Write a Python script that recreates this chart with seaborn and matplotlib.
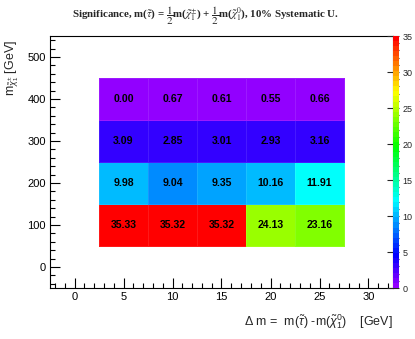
import colorsys
import numpy as np
import pandas as pd
import matplotlib
matplotlib.use("Agg")
import matplotlib.pyplot as plt
from matplotlib.colors import ListedColormap
from matplotlib.ticker import MultipleLocator
import seaborn as sns

# ---- data ----
delta_m = [5, 10, 15, 20, 25]
m_chargino = [100, 200, 300, 400]
sig_100 = [35.33, 35.32, 35.32, 24.13, 23.16]
sig_200 = [9.98, 9.04, 9.35, 10.16, 11.91]
sig_300 = [3.09, 2.85, 3.01, 2.93, 3.16]
sig_400 = [0.00, 0.67, 0.61, 0.55, 0.66]
x_ticks = [0, 5, 10, 15, 20, 25, 30]
y_ticks = [0, 100, 200, 300, 400, 500]
z_ticks = [0, 5, 10, 15, 20, 25, 30, 35]

rows = [sig_100, sig_200, sig_300, sig_400]
records = []
for m, row in zip(m_chargino, rows):
    for dm, s in zip(delta_m, row):
        records.append({"dm": dm, "m": m, "sig": s})
df = pd.DataFrame(records)

# ROOT "pretty palette"
cols = []
for i in range(50):
    hue = 280 - (i + 1) * (280 / 50)
    cols.append(colorsys.hls_to_rgb(hue / 360.0, 0.5, 1.0))
cmap = ListedColormap(cols)

sns.set_style("ticks")
plt.rcParams["font.family"] = ["Liberation Sans Narrow", "Liberation Sans", "DejaVu Sans"]
plt.rcParams["mathtext.fontset"] = "custom"
plt.rcParams["mathtext.rm"] = "Liberation Sans"
plt.rcParams["mathtext.it"] = "Liberation Sans:italic"
plt.rcParams["mathtext.bf"] = "Liberation Sans:bold"

W, H = 415, 339
fig = plt.figure(figsize=(W / 100, H / 100), dpi=100)
fig.patch.set_facecolor("white")
L, R, T, B = 50, 393, 36, 288
ax = fig.add_axes([L / W, 1 - B / H, (R - L) / W, (B - T) / H])
cax = fig.add_axes([R / W + 0.001, 1 - B / H, 6 / W, (B - T) / H])

sns.histplot(data=df, x="dm", y="m", weights="sig",
             binwidth=(5, 100), binrange=((2.5, 27.5), (50, 450)),
             thresh=None, cmap=cmap, vmin=0, vmax=35,
             edgecolor=(1, 1, 1, 0.1), linewidth=0.4,
             cbar=True, cbar_ax=cax, ax=ax)

for _, r in df.iterrows():
    ax.text(r["dm"], r["m"], f"{r['sig']:.2f}", ha="center", va="center",
            fontsize=7.6, fontweight="bold", color="black",
            family=["Liberation Sans Narrow", "Liberation Sans"])

ax.set_xlim(-2.5, 32.5)
ax.set_ylim(-50, 550)
ax.set_xticks(x_ticks)
ax.set_yticks(y_ticks)
ax.xaxis.set_minor_locator(MultipleLocator(1))
ax.yaxis.set_minor_locator(MultipleLocator(20))
ax.tick_params(which="both", direction="in", top=False, right=False,
               labelsize=8, width=0.8, colors="black", pad=3)
ax.tick_params(which="major", length=7)
ax.tick_params(which="minor", length=3.5)
ax.set_xlabel("")
ax.set_ylabel("")
for s in ax.spines.values():
    s.set_linewidth(0.8)
    s.set_color("black")

cax.set_yticks(z_ticks)
cax.yaxis.set_minor_locator(MultipleLocator(1))
cax.tick_params(which="both", direction="in", right=True, left=False,
                labelsize=6.5, width=0.8, pad=2)
cax.tick_params(which="major", length=9)
cax.tick_params(which="minor", length=2)
for s in cax.spines.values():
    s.set_visible(False)

fig.text(206 / W, 1 - 16 / H,
         r"Significance, m($\tilde{\tau}$) = $\dfrac{1}{2}$m($\tilde{\chi}_{1}^{\pm}$) + $\dfrac{1}{2}$m($\tilde{\chi}_{1}^{0}$), 10% Systematic U.",
         ha="center", va="center", fontsize=7.8, fontweight="bold",
         family=["Liberation Serif", "DejaVu Serif"], math_fontfamily="stix")
fig.text(12 / W, 1 - 40 / H, r"m$_{\tilde{\chi}_{1}^{\pm}}$ [GeV]", rotation=90,
         ha="center", va="top", fontsize=9, family=["Liberation Sans", "DejaVu Sans"])
fig.text(R / W, 1 - 322 / H,
         r"$\Delta$ m =  m($\tilde{\tau}$) -m($\tilde{\chi}_{1}^{0}$)    [GeV]",
         ha="right", va="center", fontsize=9, family=["Liberation Sans", "DejaVu Sans"])

fig.savefig("out.png", dpi=100, facecolor="white")
